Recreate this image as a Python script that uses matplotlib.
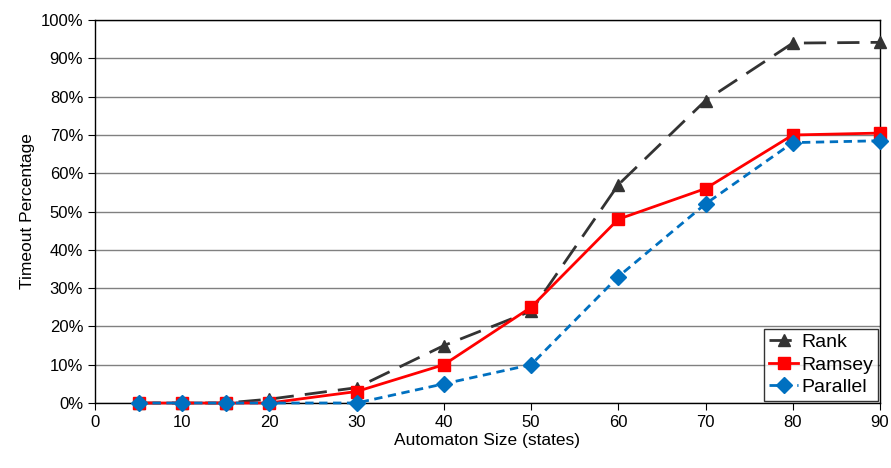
import matplotlib.pyplot as plt
from matplotlib.ticker import FuncFormatter

plt.rcParams['font.family'] = ['Liberation Sans', 'DejaVu Sans']

sizes = [5, 10, 15, 20, 30, 40, 50, 60, 70, 80, 90]
rank = [0, 0, 0, 1, 4, 15, 24, 57, 79, 94, 94.2]
ramsey = [0, 0, 0, 0, 3, 10, 25, 48, 56, 70, 70.5]
parallel = [0, 0, 0, 0, 0, 5, 10, 33, 52, 68, 68.5]

fig = plt.figure(figsize=(8.91, 4.68), dpi=100)
ax = fig.add_axes([0.1066, 0.1389, 0.881, 0.8181])

ax.plot(sizes, rank, color='#333333', lw=2, dashes=(8, 4), marker='^', ms=9,
        label='Rank', clip_on=False, zorder=3)
ax.plot(sizes, ramsey, color='#ff0000', lw=2, marker='s', ms=9,
        label='Ramsey', clip_on=False, zorder=4)
ax.plot(sizes, parallel, color='#0070c0', lw=2, dashes=(3, 2), marker='D', ms=8,
        label='Parallel', clip_on=False, zorder=5)

ax.set_xlim(0, 90)
ax.set_ylim(0, 100)
ax.set_xticks(range(0, 91, 10))
ax.set_yticks(range(0, 101, 10))
ax.yaxis.set_major_formatter(FuncFormatter(lambda v, p: '%d%%' % v))
ax.grid(axis='y', color='#808080', lw=1)
ax.set_axisbelow(True)
for s in ax.spines.values():
    s.set_color('black')
    s.set_linewidth(1)
ax.tick_params(labelsize=12, length=5, direction='out', color='black')
ax.set_xlabel('Automaton Size (states)', fontsize=12.5, labelpad=2)
ax.set_ylabel('Timeout Percentage', fontsize=12.5)

leg = ax.legend(loc='lower right', fontsize=14, frameon=True, fancybox=False,
                edgecolor='black', borderaxespad=0.1, handlelength=1.5,
                handletextpad=0.15, borderpad=0.25, labelspacing=0.25)
leg.get_frame().set_linewidth(1)
leg.set_zorder(10)

plt.savefig('out.png', dpi=100)
